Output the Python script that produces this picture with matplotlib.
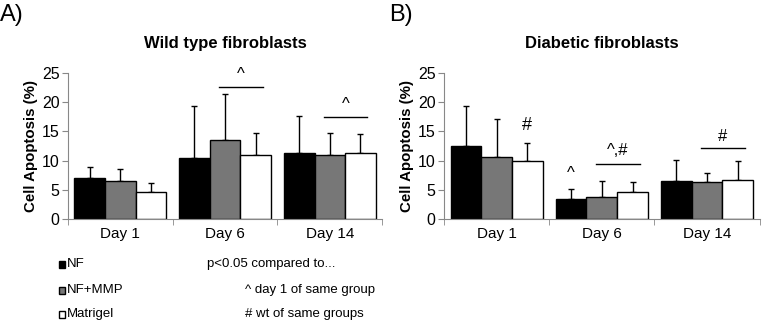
import matplotlib.pyplot as plt
import numpy as np

plt.rcParams['font.family'] = ['Liberation Sans', 'DejaVu Sans']

days = ['Day 1', 'Day 6', 'Day 14']
groups = ['NF', 'NF+MMP', 'Matrigel']
colors = ['#000000', '#777777', '#ffffff']

# wild type: means and upper error lengths
wt_nf = [7.1, 10.5, 11.3]
wt_mmp = [6.5, 13.6, 10.9]
wt_mat = [4.7, 10.9, 11.3]
wt_nf_err = [1.9, 8.8, 6.4]
wt_mmp_err = [2.1, 7.9, 3.8]
wt_mat_err = [1.5, 3.8, 3.2]

# diabetic
db_nf = [12.6, 3.5, 6.6]
db_mmp = [10.7, 3.8, 6.3]
db_mat = [10.0, 4.6, 6.7]
db_nf_err = [6.7, 1.7, 3.6]
db_mmp_err = [6.5, 2.7, 1.6]
db_mat_err = [3.1, 1.7, 3.2]

fig = plt.figure(figsize=(7.7, 3.27), dpi=100)
axA = fig.add_axes([0.0883, 0.330, 0.408, 0.4465])
axB = fig.add_axes([0.5766, 0.330, 0.410, 0.4465])

w = 0.292
x = np.arange(len(days))


def draw(ax, vals, errs, title):
    for i, (v, e) in enumerate(zip(vals, errs)):
        pos = x + (i - 1) * w
        ax.bar(pos, v, w, color=colors[i], edgecolor='black', linewidth=1, zorder=2)
        ax.errorbar(pos, v, yerr=[np.zeros(len(e)), e], fmt='none',
                    ecolor='black', elinewidth=1, capsize=2.5, capthick=1, zorder=1)
    ax.set_xlim(-0.5, 2.5)
    ax.set_ylim(0, 25)
    ax.set_yticks([0, 5, 10, 15, 20, 25])
    ax.set_xticks(x)
    ax.set_xticklabels(days, fontsize=11)
    ax.set_xticks([-0.5, 0.5, 1.5, 2.5], minor=True)
    ax.tick_params(axis='x', which='major', length=0, pad=6)
    ax.tick_params(axis='x', which='minor', length=4, color='#888888')
    ax.tick_params(axis='y', length=4, color='#888888', labelsize=11.5, pad=2)
    for s in ['top', 'right']:
        ax.spines[s].set_visible(False)
    for s in ['left', 'bottom']:
        ax.spines[s].set_color('#888888')
    ax.set_ylabel('Cell Apoptosis (%)', fontsize=10.8, fontweight='bold', labelpad=3)
    ax.set_title(title, fontsize=12, fontweight='bold', pad=18)


draw(axA, [wt_nf, wt_mmp, wt_mat], [wt_nf_err, wt_mmp_err, wt_mat_err],
     'Wild type fibroblasts')
draw(axB, [db_nf, db_mmp, db_mat], [db_nf_err, db_mmp_err, db_mat_err],
     'Diabetic fibroblasts')


def sig(ax, c, y, label, ty):
    x0, x1 = c - 0.06, c + 0.36
    ax.plot([x0, x1], [y, y], color='black', lw=1, clip_on=False)
    ax.text((x0 + x1) / 2, ty, label, ha='center', va='center', fontsize=12)


# significance marks
sig(axA, 1, 22.7, '^', 24.8)
sig(axA, 2, 17.4, '^', 19.6)
axB.text(0 + w, 16.0, '#', ha='center', va='center', fontsize=13)
axB.text(1 - w, 7.8, '^', ha='center', va='center', fontsize=12)
sig(axB, 1, 9.5, '^,#', 11.7)
sig(axB, 2, 12.1, '#', 14.1)

fig.text(0.0, 0.955, 'A)', fontsize=17, va='center', ha='left')
fig.text(0.506, 0.955, 'B)', fontsize=17, va='center', ha='left')

# legend
leg_y = [264, 290, 314]
for g, c, yy in zip(groups, colors, leg_y):
    fy = 1 - yy / 327
    fig.patches.append(plt.Rectangle((59 / 770, fy - 3.5 / 327), 6 / 770, 7 / 327,
                                     facecolor=c, edgecolor='black', lw=1,
                                     transform=fig.transFigure, figure=fig))
    fig.text(67 / 770, fy, g, fontsize=9.5, va='center')

fig.text(207 / 770, 1 - 264 / 327, 'p<0.05 compared to...', fontsize=9.5,
         va='center')
fig.text(245 / 770, 1 - 290 / 327, '^ day 1 of same group', fontsize=9.5,
         va='center')
fig.text(245 / 770, 1 - 314 / 327, '# wt of same groups', fontsize=9.5,
         va='center')

fig.savefig('out.png', dpi=100)
